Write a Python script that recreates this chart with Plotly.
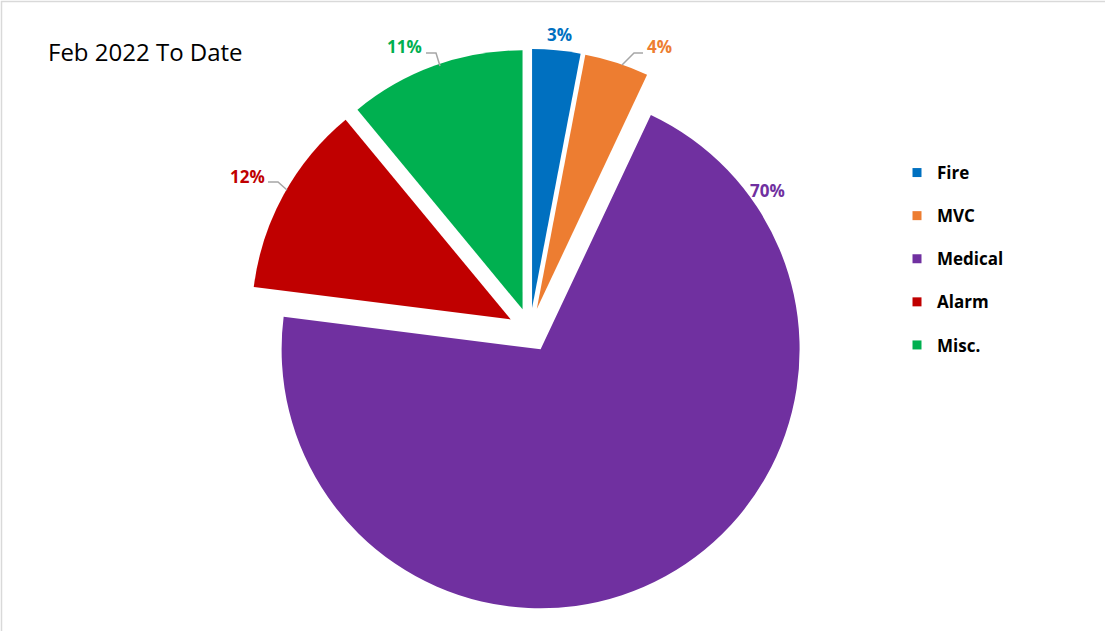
import plotly.graph_objects as go

W, H = 1105, 631

# ---- data ----
categories = ["Fire", "MVC", "Medical", "Alarm", "Misc."]
values = [3, 4, 70, 12, 11]
colors = ["#0070C0", "#ED7D31", "#7030A0", "#C00000", "#00B050"]
title_text = "Feb 2022 To Date"

# ---- layout helpers (pixel positions of outside labels / leader lines) ----
label_pos_px = [(559, 35), (659, 47), (767, 190), (247, 176), (404, 46)]
leader_px = [None,
             [(643, 53), (634, 53), (622, 65)],
             None,
             [(268, 182), (278, 182), (287, 190)],
             [(426, 53), (436, 53), (440, 66)]]


def px(x, y):
    return x / W, 1 - y / H


total = sum(values)
fig = go.Figure()

R = 259
PULL = 0.085
CX, CY = 530, 330
half_h = R * (1 + PULL)
fig.add_trace(go.Pie(
    labels=categories,
    values=values,
    marker=dict(colors=colors, line=dict(width=0)),
    sort=False,
    direction="clockwise",
    rotation=0,
    pull=[PULL] * len(values),
    textinfo="none",
    hoverinfo="label+percent",
    showlegend=False,
    domain=dict(x=[(CX - 300) / W, (CX + 300) / W],
                y=[(H - CY - half_h) / H, (H - CY + half_h) / H]),
))

# legend entries (one group per category for spacing)
for cat, col in zip(categories, colors):
    fig.add_trace(go.Scatter(
        x=[None], y=[None], mode="markers", name=cat,
        marker=dict(symbol="square", size=9, color=col),
        legendgroup=cat, showlegend=True, hoverinfo="skip",
    ))

annotations = []
for cat, v, col, (lx, ly) in zip(categories, values, colors, label_pos_px):
    x, y = px(lx, ly)
    annotations.append(dict(
        x=x, y=y, xref="paper", yref="paper", showarrow=False,
        text=f"{round(v / total * 100)}%", xanchor="center", yanchor="middle",
        font=dict(family="Open Sans", size=17, color=col, weight="bold"),
    ))

tx, ty = px(46, 51)
annotations.append(dict(
    x=tx, y=ty, xref="paper", yref="paper", showarrow=False,
    text=title_text, xanchor="left", yanchor="middle",
    font=dict(family="Open Sans", size=24, color="#000000"),
))

shapes = []
for pts in leader_px:
    if not pts:
        continue
    path = "M " + " L ".join(f"{px(a, b)[0]},{px(a, b)[1]}" for a, b in pts)
    shapes.append(dict(type="path", xref="paper", yref="paper", path=path,
                       line=dict(color="#A6A6A6", width=1.5)))

# chart-area border (clipped at right/bottom like the source)
shapes.append(dict(type="rect", xref="paper", yref="paper",
                   x0=1.5 / W, x1=1.02, y0=-0.02, y1=1 - 1.5 / H,
                   line=dict(color="#D9D9D9", width=1.5)))

lx, ly = px(897, 155)
fig.update_layout(
    width=W, height=H,
    margin=dict(l=0, r=0, t=0, b=0),
    paper_bgcolor="white", plot_bgcolor="white",
    xaxis=dict(visible=False), yaxis=dict(visible=False),
    annotations=annotations,
    shapes=shapes,
    showlegend=True,
    legend=dict(
        x=lx, y=ly, xanchor="left", yanchor="top",
        font=dict(family="Open Sans", size=17, color="#000000", weight="bold"),
        tracegroupgap=18, itemwidth=30,
        bgcolor="rgba(0,0,0,0)",
    ),
)

fig.write_html(
    "out.html",
    config={"displayModeBar": False},
    post_script="document.body.style.margin='0';document.body.style.overflow='hidden';",
)
